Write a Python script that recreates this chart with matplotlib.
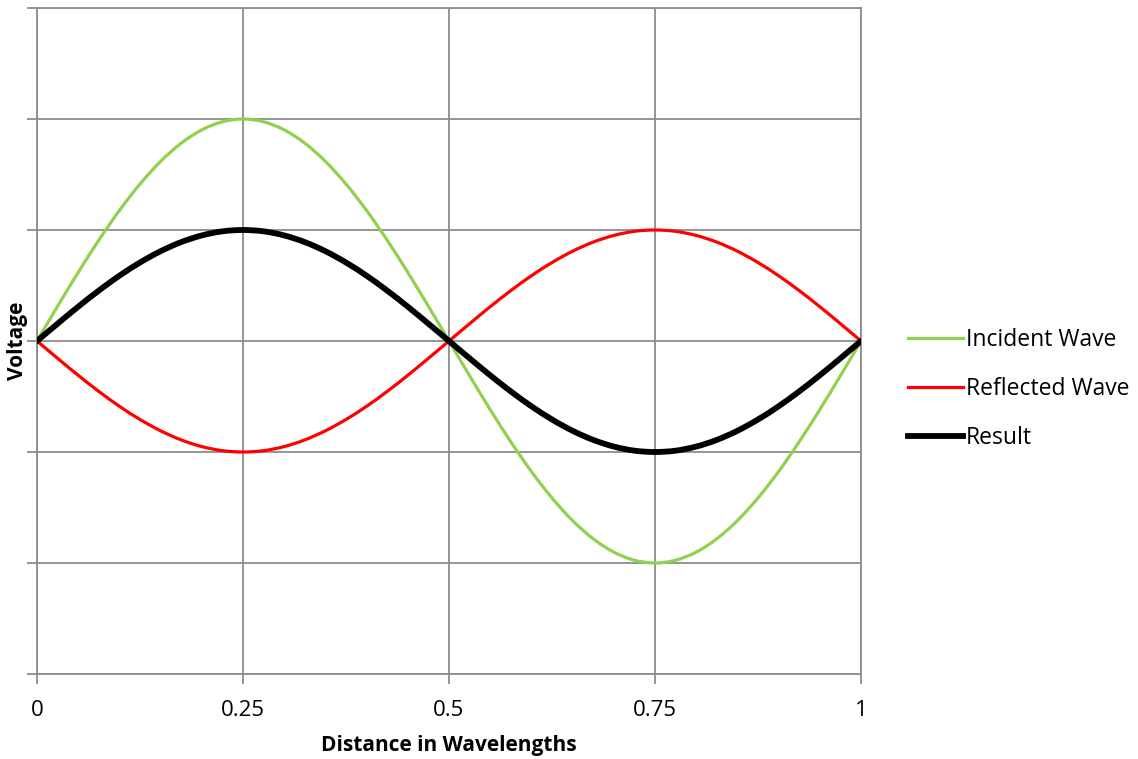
import matplotlib.pyplot as plt
from matplotlib.path import Path
from matplotlib.patches import PathPatch

# distance in wavelengths, sampled every 1/40
distance = [i / 40 for i in range(41)]

result = [0.000, 0.156, 0.309, 0.454, 0.588, 0.707, 0.809, 0.891, 0.951, 0.988,
          1.000, 0.988, 0.951, 0.891, 0.809, 0.707, 0.588, 0.454, 0.309, 0.156,
          0.000, -0.156, -0.309, -0.454, -0.588, -0.707, -0.809, -0.891, -0.951, -0.988,
          -1.000, -0.988, -0.951, -0.891, -0.809, -0.707, -0.588, -0.454, -0.309, -0.156,
          0.000]

incident = [0.000, 0.313, 0.618, 0.908, 1.176, 1.414, 1.618, 1.782, 1.902, 1.975,
            2.000, 1.975, 1.902, 1.782, 1.618, 1.414, 1.176, 0.908, 0.618, 0.313,
            0.000, -0.313, -0.618, -0.908, -1.176, -1.414, -1.618, -1.782, -1.902, -1.975,
            -2.000, -1.975, -1.902, -1.782, -1.618, -1.414, -1.176, -0.908, -0.618, -0.313,
            0.000]

reflected = [0.000, -0.156, -0.309, -0.454, -0.588, -0.707, -0.809, -0.891, -0.951, -0.988,
             -1.000, -0.988, -0.951, -0.891, -0.809, -0.707, -0.588, -0.454, -0.309, -0.156,
             0.000, 0.156, 0.309, 0.454, 0.588, 0.707, 0.809, 0.891, 0.951, 0.988,
             1.000, 0.988, 0.951, 0.891, 0.809, 0.707, 0.588, 0.454, 0.309, 0.156,
             0.000]

x_ticks = [0, 0.25, 0.5, 0.75, 1]
x_tick_labels = ["0", "0.25", "0.5", "0.75", "1"]
y_ticks = [-3, -2, -1, 0, 1, 2, 3]


def smooth_path(xs, ys):
    # Catmull-Rom through the points, written as cubic bezier segments
    verts = [(xs[0], ys[0])]
    codes = [Path.MOVETO]
    n = len(xs)
    for i in range(n - 1):
        x0, y0 = (xs[i - 1], ys[i - 1]) if i > 0 else (xs[i], ys[i])
        x1, y1 = xs[i], ys[i]
        x2, y2 = xs[i + 1], ys[i + 1]
        x3, y3 = (xs[i + 2], ys[i + 2]) if i + 2 < n else (x2, y2)
        verts += [(x1 + (x2 - x0) / 6, y1 + (y2 - y0) / 6),
                  (x2 - (x3 - x1) / 6, y2 - (y3 - y1) / 6),
                  (x2, y2)]
        codes += [Path.CURVE4] * 3
    return Path(verts, codes)


plt.rcParams["font.family"] = ["Open Sans", "DejaVu Sans"]

fig = plt.figure(figsize=(11.38, 7.59), dpi=100)
ax = fig.add_axes([37 / 1138, 1 - 674 / 759, (861 - 37) / 1138, (674 - 8) / 759])

grid_color = "#8c8c8c"

series = [
    (incident, "#92D050", 2.3, "Incident Wave", 3),
    (reflected, "#FF0000", 2.3, "Reflected Wave", 3),
    (result, "#000000", 4.2, "Result", 4),
]
for values, color, lw, label, z in series:
    ax.add_patch(PathPatch(smooth_path(distance, values), fill=False,
                           edgecolor=color, lw=lw, zorder=z, capstyle="round"))
    ax.plot([], [], color=color, lw=lw, label=label)

ax.set_xlim(0, 1)
ax.set_ylim(-3, 3)
ax.set_xticks(x_ticks)
ax.set_xticklabels(x_tick_labels, fontsize=16)
ax.set_yticks(y_ticks)
ax.set_yticklabels([])

ax.grid(True, color=grid_color, lw=1.3)
for side in ["left", "bottom", "top", "right"]:
    ax.spines[side].set_color(grid_color)
    ax.spines[side].set_linewidth(1.3)
ax.tick_params(axis="both", direction="out", length=7, width=1.3, color=grid_color)
ax.tick_params(axis="x", pad=12)

fig.text(449 / 1138, 1 - 745 / 759, "Distance in Wavelengths",
         fontsize=15, fontweight="bold", ha="center", va="center")
fig.text(17 / 1138, 1 - 341 / 759, "Voltage", rotation=90,
         fontsize=15, fontweight="bold", ha="center", va="center")

fig.legend(loc="center left", bbox_to_anchor=(897 / 1138, 1 - 389 / 759),
           frameon=False, fontsize=16.5, handlelength=2.4, handletextpad=0.12,
           labelspacing=1.1, borderpad=0)

fig.savefig("out.png", dpi=100)
plt.close(fig)
